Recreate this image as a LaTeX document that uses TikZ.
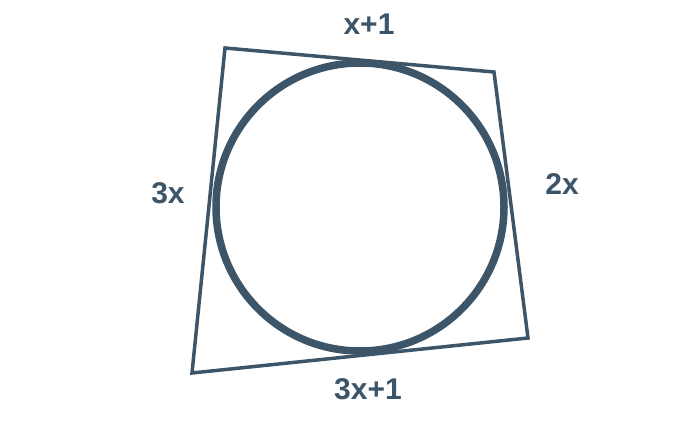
\documentclass[tikz,border=0pt]{standalone}
\usepackage{fontspec}
\setmainfont{Liberation Sans}
\definecolor{slate}{HTML}{3D5569}
\begin{document}
\begin{tikzpicture}[x=1pt,y=-1pt,
  quad/.style={draw=slate,line width=3.5pt,line join=miter},
  incircle/.style={draw=slate,line width=7.5pt},
  lbl/.style={text=slate,font=\fontsize{30}{36}\selectfont\bfseries,inner sep=0pt,anchor=center}]
\useasboundingbox (0,0) rectangle (685,446);
\coordinate (A) at (225,48);
\coordinate (B) at (494,72);
\coordinate (C) at (528,338);
\coordinate (D) at (192,373);
\draw[quad] (A) -- (B) -- (C) -- (D) -- cycle;
\node[incircle,circle,minimum size=288pt,inner sep=0pt] (O) at (360,207) {};
\node[lbl] (top) at (369,24) {x+1};
\node[lbl] (bottom) at (368,389) {3x+1};
\node[lbl] (left) at (168,193) {3x};
\node[lbl] (right) at (562,184) {2x};
\end{tikzpicture}
\end{document}
